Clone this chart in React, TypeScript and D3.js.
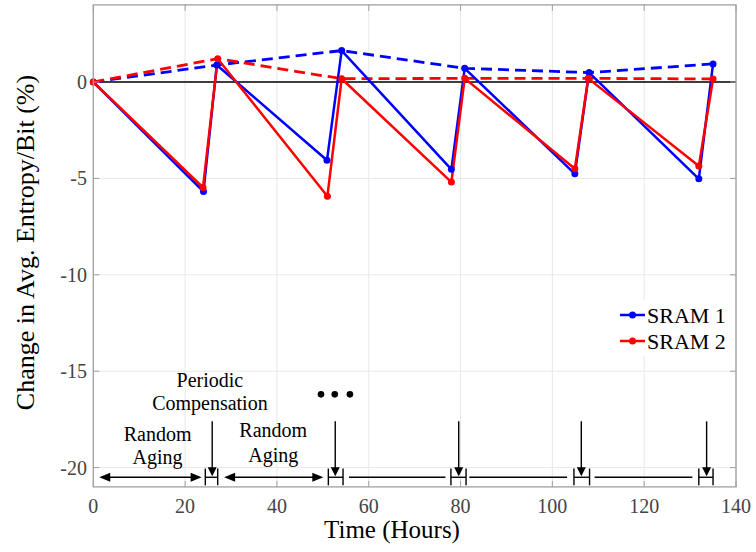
import React from 'react';
import * as d3 from 'd3';

// ---- Data ----
const sram1Time = [0, 24.0, 26.9, 50.9, 54.1, 78.0, 80.9, 104.9, 108.0, 131.9, 135.0];
const sram1Value = [0, -5.68, 0.88, -4.06, 1.63, -4.53, 0.71, -4.76, 0.49, -5.02, 0.94];
const sram2Time = [0, 23.9, 27.1, 51.0, 54.1, 78.0, 80.9, 104.9, 107.8, 131.9, 135.0];
const sram2Value = [0, -5.47, 1.21, -5.92, 0.17, -5.19, 0.19, -4.5, 0.19, -4.36, 0.16];
const compensationIdx = [0, 2, 4, 6, 8, 10];

const xTicks = [0, 20, 40, 60, 80, 100, 120, 140];
const yTicks = [-20, -15, -10, -5, 0];
const seriesNames = ['SRAM 1', 'SRAM 2'];
const seriesColors = ['#0000ff', '#ff0000'];

// annotation timeline (data coords)
const agingArrows = [[1.3, 23.6], [28.5, 50.1]];
const agingLines = [[55.7, 76.7], [81.9, 103.2], [109.2, 130.5]];
const compBrackets = [[24.4, 27.1], [51.2, 54.4], [77.9, 81.2], [104.7, 108.1], [131.9, 135.0]];
const compArrows = [25.9, 52.7, 79.6, 106.3, 133.6];
const ellipsisDots = [49.6, 52.6, 55.9];
const annotationTexts = [
  { text: 'Periodic', t: 25.4, v: -15.8 },
  { text: 'Compensation', t: 25.4, v: -17.01 },
  { text: 'Random', t: 14.0, v: -18.62 },
  { text: 'Aging', t: 14.0, v: -19.81 },
  { text: 'Random', t: 39.2, v: -18.43 },
  { text: 'Aging', t: 39.2, v: -19.69 },
];

const W = 756;
const H = 552;
const L = 93.3, R = 736, T = 4.9, B = 486.9;
const FONT = "'Liberation Serif', 'Times New Roman', serif";

export default function App() {
  const x = d3.scaleLinear().domain([0, 140]).range([L, R]);
  const y = d3.scaleLinear().domain([-21, 4]).range([B, T]);

  const series = [
    sram1Time.map((t, i) => [t, sram1Value[i]] as [number, number]),
    sram2Time.map((t, i) => [t, sram2Value[i]] as [number, number]),
  ];
  const line = d3.line<[number, number]>().x(d => x(d[0])).y(d => y(d[1]));

  const arrowLevel = -20.5;
  const yA = y(arrowLevel);
  const bTop = y(-20.05), bBot = y(-20.92);
  const arrowTop = y(-17.6);

  const hHead = (tipX: number, dir: number) => {
    const len = 11, hw = 4.5;
    return `M${tipX},${yA} L${tipX - dir * len},${yA - hw} L${tipX - dir * len},${yA + hw} Z`;
  };

  return (
    <svg width={W} height={H} style={{ position: 'absolute', left: 0, top: 0, background: '#fff' }}>
      <rect x={0} y={0} width={W} height={H} fill="#fff" />
      {/* grid */}
      {xTicks.map(t => (
        <line key={'gx' + t} x1={x(t)} x2={x(t)} y1={T} y2={B} stroke="#e8e8e8" strokeWidth={1} />
      ))}
      {yTicks.map(v => (
        <line key={'gy' + v} x1={L} x2={R} y1={y(v)} y2={y(v)} stroke="#e8e8e8" strokeWidth={1} />
      ))}
      {/* zero line */}
      <line x1={L} x2={R} y1={y(0)} y2={y(0)} stroke="#000" strokeWidth={1.5} />

      {/* dashed compensation trends */}
      {series.map((s, k) => (
        <path key={'d' + k} d={line(compensationIdx.map(i => s[i])) || ''} fill="none"
          stroke={seriesColors[k]} strokeWidth={2.8} strokeDasharray="11,6" />
      ))}
      {/* solid lines */}
      {series.map((s, k) => (
        <path key={'s' + k} d={line(s) || ''} fill="none" stroke={seriesColors[k]} strokeWidth={2.5}
          strokeLinejoin="round" />
      ))}
      {series.map((s, k) => s.map((p, i) => (
        <circle key={'m' + k + '-' + i} cx={x(p[0])} cy={y(p[1])} r={3.5} fill={seriesColors[k]} />
      )))}

      {/* annotations */}
      {agingArrows.map(([a, b], i) => (
        <g key={'aa' + i}>
          <line x1={x(a) + 6} x2={x(b) - 6} y1={yA} y2={yA} stroke="#000" strokeWidth={1.4} />
          <path d={hHead(x(a), -1)} fill="#000" />
          <path d={hHead(x(b), 1)} fill="#000" />
        </g>
      ))}
      {agingLines.map(([a, b], i) => (
        <line key={'al' + i} x1={x(a)} x2={x(b)} y1={yA} y2={yA} stroke="#000" strokeWidth={1.4} />
      ))}
      {compBrackets.map(([a, b], i) => (
        <g key={'cb' + i}>
          <line x1={x(a)} x2={x(a)} y1={bTop} y2={bBot} stroke="#000" strokeWidth={1.4} />
          <line x1={x(b)} x2={x(b)} y1={bTop} y2={bBot} stroke="#000" strokeWidth={1.4} />
          <line x1={x(a)} x2={x(b)} y1={yA} y2={yA} stroke="#000" strokeWidth={1.4} />
        </g>
      ))}
      {compArrows.map((t, i) => (
        <g key={'ca' + i}>
          <line x1={x(t)} x2={x(t)} y1={arrowTop} y2={yA - 8} stroke="#000" strokeWidth={1.4} />
          <path d={`M${x(t)},${yA - 1} L${x(t) - 4.5},${yA - 10} L${x(t) + 4.5},${yA - 10} Z`} fill="#000" />
        </g>
      ))}
      {ellipsisDots.map((t, i) => (
        <circle key={'ed' + i} cx={x(t)} cy={y(-16.2)} r={3.3} fill="#000" />
      ))}
      {annotationTexts.map((a, i) => (
        <text key={'at' + i} x={x(a.t)} y={y(a.v)} textAnchor="middle" fontFamily={FONT} fontSize={20} fill="#000">
          {a.text}
        </text>
      ))}

      {/* axes box */}
      <rect x={L} y={T} width={R - L} height={B - T} fill="none" stroke="#a0a0a0" strokeWidth={1.3} />
      {xTicks.map(t => (
        <g key={'tx' + t}>
          <line x1={x(t)} x2={x(t)} y1={B} y2={B - 6} stroke="#a0a0a0" strokeWidth={1} />
          <line x1={x(t)} x2={x(t)} y1={T} y2={T + 6} stroke="#a0a0a0" strokeWidth={1} />
          <text x={x(t)} y={513} textAnchor="middle" fontFamily={FONT} fontSize={20} fill="#444">{t}</text>
        </g>
      ))}
      {yTicks.map(v => (
        <g key={'ty' + v}>
          <line x1={L} x2={L + 6} y1={y(v)} y2={y(v)} stroke="#a0a0a0" strokeWidth={1} />
          <line x1={R} x2={R - 6} y1={y(v)} y2={y(v)} stroke="#a0a0a0" strokeWidth={1} />
          <text x={87} y={y(v) + 7} textAnchor="end" fontFamily={FONT} fontSize={20} fill="#444">{v}</text>
        </g>
      ))}

      {/* legend */}
      <rect x={612} y={300} width={122} height={56} fill="#fff" />
      {seriesNames.map((n, k) => {
        const ly = 315 + k * 26;
        return (
          <g key={'lg' + k}>
            <line x1={620} x2={645} y1={ly} y2={ly} stroke={seriesColors[k]} strokeWidth={2.5} />
            <circle cx={632.5} cy={ly} r={3.5} fill={seriesColors[k]} />
            <text x={647} y={ly + 8} fontFamily={FONT} fontSize={22} fill="#000">{n}</text>
          </g>
        );
      })}

      {/* axis titles */}
      <text x={392} y={538} textAnchor="middle" fontFamily={FONT} fontSize={25} fill="#000">Time (Hours)</text>
      <text transform={`translate(33.5,242.5) rotate(-90)`} textAnchor="middle" fontFamily={FONT} fontSize={26} fill="#000">
        Change in Avg. Entropy/Bit (%)
      </text>
    </svg>
  );
}
